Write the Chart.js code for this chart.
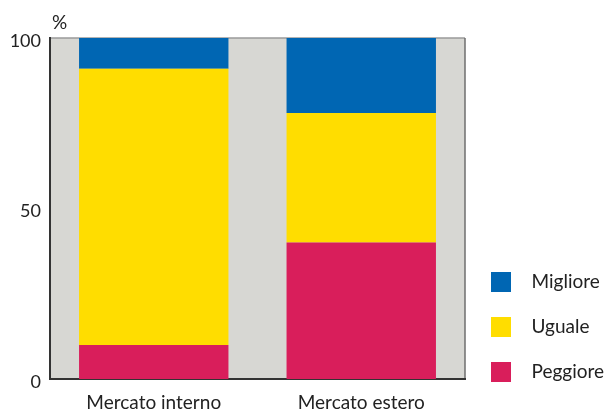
<!DOCTYPE html>
<html>
<head>
<meta charset="utf-8">
<script src="https://cdn.jsdelivr.net/npm/chart.js@4"></script>
<style>
  body { margin: 0; background: #fff; }
  #wrap { width: 608px; height: 414px; }
</style>
</head>
<body>
<div id="wrap"><canvas id="grafico"></canvas></div>
<script>
const categorie = ['Mercato interno', 'Mercato estero'];
const peggiore = [10, 40];
const uguale = [81, 38];
const migliore = [9, 22];
const tickValori = [0, 50, 100];

const colori = {
  Peggiore: '#D91E5B',
  Uguale: '#FFDD00',
  Migliore: '#0066B3'
};

// quadratino della legenda, con spazio vuoto a destra prima del testo
function quadrato(colore) {
  const c = document.createElement('canvas');
  c.width = 31;
  c.height = 20;
  const g = c.getContext('2d');
  g.fillStyle = colore;
  g.fillRect(0, 0, 20, 20);
  return c;
}

const sfondo = {
  id: 'sfondo',
  beforeDraw(chart) {
    const a = chart.chartArea;
    const ctx = chart.ctx;
    ctx.save();
    ctx.fillStyle = '#D7D7D3';
    ctx.fillRect(a.left, a.top, a.right - a.left, a.bottom - a.top);
    ctx.strokeStyle = '#9a9a9a';
    ctx.lineWidth = 1.5;
    ctx.beginPath();
    ctx.moveTo(a.left, a.top);
    ctx.lineTo(a.right, a.top);
    ctx.stroke();
    ctx.strokeStyle = '#6e6e6e';
    ctx.beginPath();
    ctx.moveTo(a.right, a.top);
    ctx.lineTo(a.right, a.bottom);
    ctx.stroke();
    ctx.restore();
  },
  afterDraw(chart) {
    const a = chart.chartArea;
    const ctx = chart.ctx;
    ctx.save();
    ctx.fillStyle = '#222';
    ctx.font = '19px Lato';
    ctx.textBaseline = 'alphabetic';
    ctx.fillText('%', a.left + 2, 29);
    ctx.restore();
  },
  afterLayout(chart) {
    chart.legend.top -= 7;
    chart.legend.bottom -= 7;
  }
};

new Chart(document.getElementById('grafico'), {
  type: 'bar',
  data: {
    labels: categorie,
    datasets: [
      { label: 'Peggiore', data: peggiore, backgroundColor: colori.Peggiore },
      { label: 'Uguale', data: uguale, backgroundColor: colori.Uguale },
      { label: 'Migliore', data: migliore, backgroundColor: colori.Migliore }
    ]
  },
  options: {
    responsive: true,
    maintainAspectRatio: false,
    animation: false,
    layout: { padding: { left: 11, top: 38, right: 0, bottom: 0 } },
    datasets: {
      bar: { categoryPercentage: 1, barPercentage: 0.72 }
    },
    scales: {
      x: {
        stacked: true,
        afterFit(scale) { scale.height = 35; },
        grid: { display: false, drawTicks: false },
        border: { display: true, color: '#333', width: 2 },
        ticks: { color: '#222', font: { family: 'Lato', size: 19 }, padding: 12, maxRotation: 0, minRotation: 0 }
      },
      y: {
        stacked: true,
        min: 0,
        max: 100,
        afterBuildTicks(scale) {
          scale.ticks = tickValori.map(v => ({ value: v }));
        },
        afterFit(scale) { scale.width = 39; },
        grid: { display: false, drawTicks: false },
        border: { display: true, color: '#333', width: 2 },
        ticks: { color: '#222', font: { family: 'Lato', size: 18 }, padding: 9, labelOffset: 3 }
      }
    },
    plugins: {
      tooltip: { enabled: false },
      legend: {
        position: 'right',
        align: 'end',
        reverse: true,
        maxWidth: 143,
        labels: {
          usePointStyle: true,
          pointStyleWidth: 31,
          padding: 26,
          color: '#222',
          font: { family: 'Lato', size: 19 },
          generateLabels(chart) {
            const items = Chart.defaults.plugins.legend.labels.generateLabels(chart);
            items.forEach(it => { it.pointStyle = quadrato(colori[it.text]); });
            return items;
          }
        }
      }
    }
  },
  plugins: [sfondo]
});
</script>
</body>
</html>
